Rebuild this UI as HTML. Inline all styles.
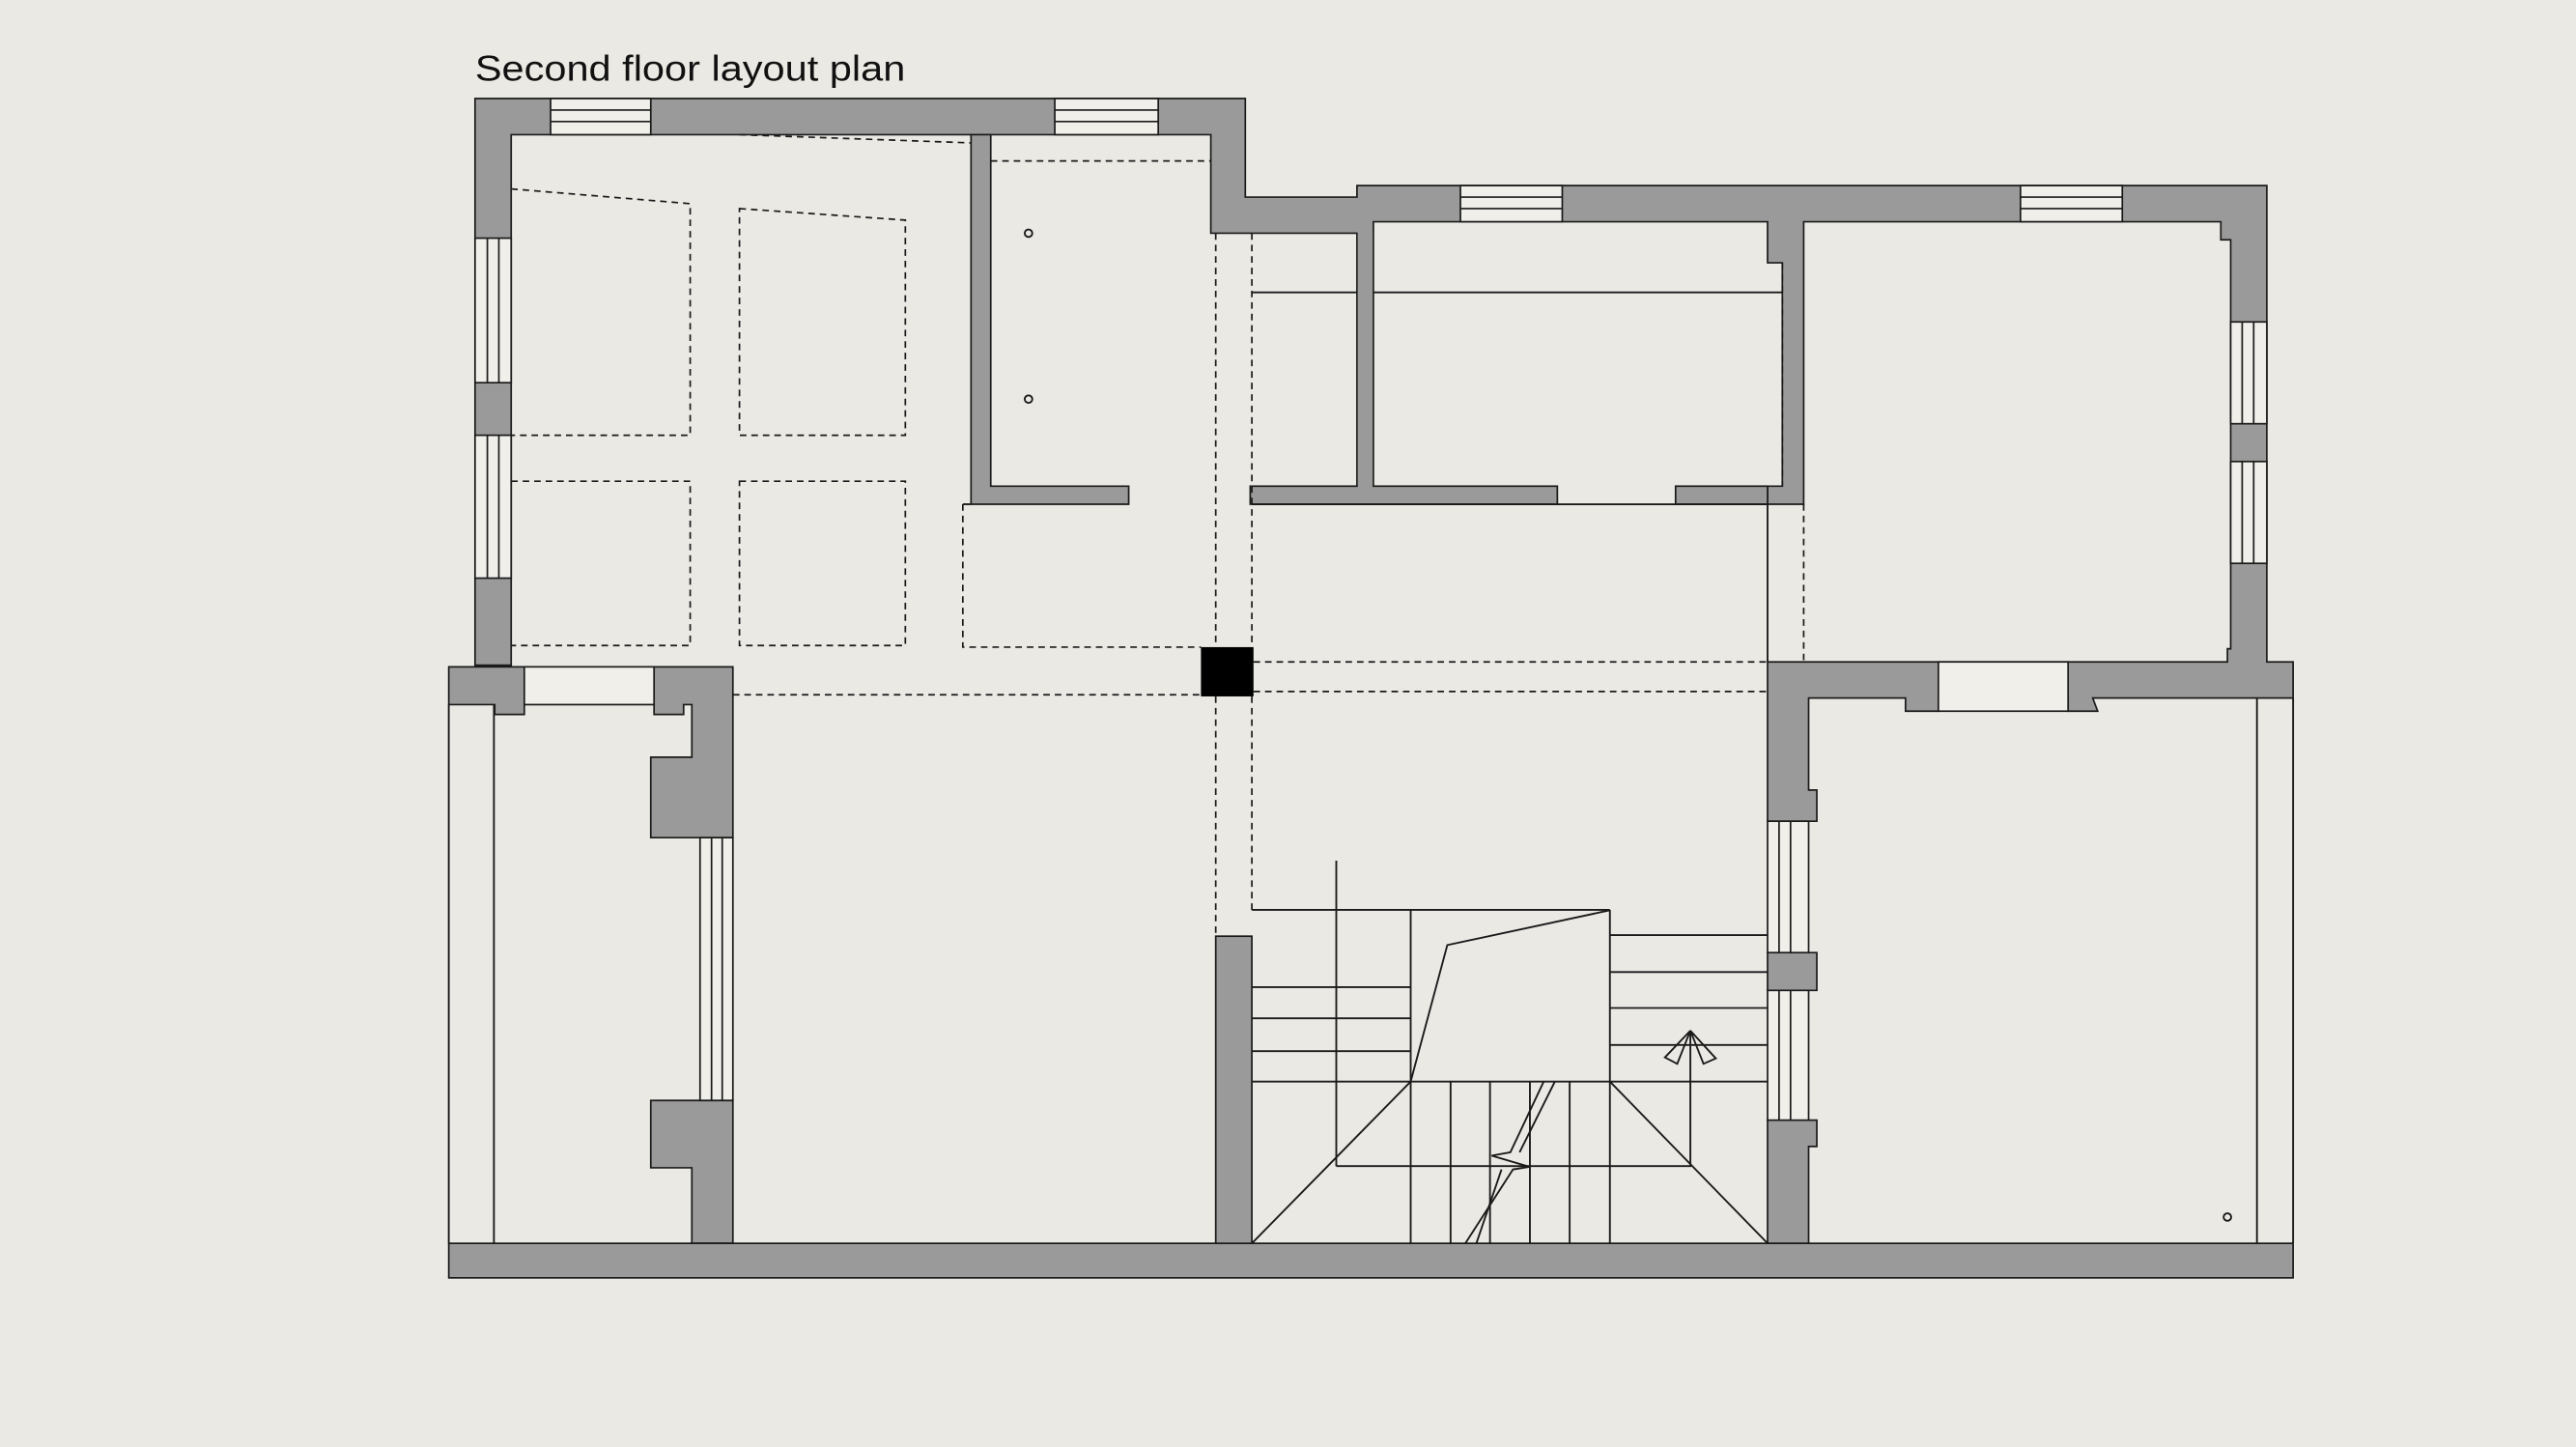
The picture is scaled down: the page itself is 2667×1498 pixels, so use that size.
<!DOCTYPE html>
<html><head><meta charset="utf-8"><style>
html,body{margin:0;padding:0;background:#ebe9e4;}
svg{display:block;}
</style></head><body>
<svg width="2667" height="1498" viewBox="0 0 1568 881" xmlns="http://www.w3.org/2000/svg">
<rect width="1568" height="881" fill="#ebe9e4"/>
<text x="289" y="49" font-family="Liberation Sans, sans-serif" font-size="22" fill="#111" textLength="262" lengthAdjust="spacingAndGlyphs">Second floor layout plan</text>

<g fill="#9a9a9a" stroke="#1a1a1a" stroke-width="1">
<polygon points="289,60 758,60 758,120 826,120 826,113 1380,113 1380,403 1396,403 1396,425 1274,425 1277,433 1259,433 1259,425 1180,425 1180,433 1160,433 1160,425 1101,425 1101,481 1106,481 1106,500 1076,500 1076,403 1356,403 1356,395 1358,395 1358,146 1352,146 1352,135 1098,135 1098,307 1076,307 1076,296 1085,296 1085,160 1076,160 1076,135 836,135 836,296 826,296 826,142 737,142 737,82 311,82 311,405 289,405"/>
<polygon points="591,82 603,82 603,296 687,296 687,307 591,307"/>
<rect x="761" y="296" width="187" height="11"/>
<rect x="1020" y="296" width="56" height="11"/>
<rect x="826.5" y="140" width="9" height="160" stroke="none"/>
<polygon points="273,406 319,406 319,435 301,435 301,429 273,429"/>
<polygon points="398,406 446,406 446,510 396,510 396,461 421,461 421,429 416,429 416,435 398,435"/>
<polygon points="396,670 446,670 446,757 421,757 421,711 396,711"/>
<rect x="273" y="757" width="1123" height="21"/>
<rect x="740" y="570" width="22" height="187"/>
<polygon points="1076,580 1106,580 1106,603 1076,603"/>
<polygon points="1076,682 1106,682 1106,698 1101,698 1101,757 1076,757"/>
</g>

<g fill="#f1efea" stroke="#1a1a1a" stroke-width="1">
<rect x="335" y="60" width="61" height="22"/><line x1="335" y1="67" x2="396" y2="67"/><line x1="335" y1="74" x2="396" y2="74"/>
<rect x="642" y="60" width="63" height="22"/><line x1="642" y1="67" x2="705" y2="67"/><line x1="642" y1="74" x2="705" y2="74"/>
<rect x="889" y="113" width="62" height="22"/><line x1="889" y1="120" x2="951" y2="120"/><line x1="889" y1="127" x2="951" y2="127"/>
<rect x="1230" y="113" width="62" height="22"/><line x1="1230" y1="120" x2="1292" y2="120"/><line x1="1230" y1="127" x2="1292" y2="127"/>
<rect x="289" y="145" width="22" height="88"/><line x1="296.5" y1="145" x2="296.5" y2="233"/><line x1="303.5" y1="145" x2="303.5" y2="233"/>
<rect x="289" y="265" width="22" height="87"/><line x1="296.5" y1="265" x2="296.5" y2="352"/><line x1="303.5" y1="265" x2="303.5" y2="352"/>
<rect x="1358" y="196" width="22" height="62"/><line x1="1365" y1="196" x2="1365" y2="258"/><line x1="1372" y1="196" x2="1372" y2="258"/>
<rect x="1358" y="281" width="22" height="62"/><line x1="1365" y1="281" x2="1365" y2="343"/><line x1="1372" y1="281" x2="1372" y2="343"/>
<rect x="426" y="510" width="20" height="160"/><line x1="433" y1="510" x2="433" y2="670"/><line x1="439.5" y1="510" x2="439.5" y2="670"/>
<rect x="1076" y="500" width="25" height="80"/><line x1="1083" y1="500" x2="1083" y2="580"/><line x1="1090" y1="500" x2="1090" y2="580"/>
<rect x="1076" y="603" width="25" height="79"/><line x1="1083" y1="603" x2="1083" y2="682"/><line x1="1090" y1="603" x2="1090" y2="682"/>
<rect x="319" y="406" width="79" height="23"/>
<rect x="1180" y="403" width="79" height="30"/>
</g>

<g stroke="#1a1a1a" stroke-width="1.1" fill="none">
<line x1="273" y1="429" x2="273" y2="757"/>
<line x1="300.5" y1="429" x2="300.5" y2="757"/>
<line x1="1374" y1="425" x2="1374" y2="757"/>
<line x1="1396" y1="425" x2="1396" y2="757"/>
<line x1="762" y1="178" x2="826" y2="178"/>
<line x1="836" y1="178" x2="1085" y2="178"/>
<line x1="762" y1="307" x2="1076" y2="307"/>
<line x1="1076" y1="307" x2="1076" y2="403"/>
<line x1="586" y1="307" x2="591" y2="307"/>
<circle cx="626" cy="142" r="2.3"/>
<circle cx="626" cy="243" r="2.3"/>
<circle cx="1356" cy="741" r="2.3"/>
<line x1="762" y1="554" x2="980" y2="554"/>
<line x1="813.4" y1="524" x2="813.4" y2="710"/>
<line x1="858.7" y1="554" x2="858.7" y2="757"/>
<line x1="762" y1="601" x2="858.7" y2="601"/>
<line x1="762" y1="620" x2="858.7" y2="620"/>
<line x1="762" y1="640" x2="858.7" y2="640"/>
<line x1="762" y1="658.5" x2="1076" y2="658.5"/>
<polyline points="858.7,658.5 881,575.4 980,554.2"/>
<line x1="980" y1="554" x2="980" y2="757"/>
<line x1="980" y1="569.3" x2="1076" y2="569.3"/>
<line x1="980" y1="591.8" x2="1076" y2="591.8"/>
<line x1="980" y1="613.7" x2="1076" y2="613.7"/>
<line x1="980" y1="636.2" x2="1076" y2="636.2"/>
<line x1="883" y1="658.5" x2="883" y2="757"/>
<line x1="907" y1="658.5" x2="907" y2="757"/>
<line x1="931.3" y1="658.5" x2="931.3" y2="757"/>
<line x1="955.5" y1="658.5" x2="955.5" y2="757"/>
<line x1="762" y1="757" x2="858.7" y2="658.5"/>
<line x1="980" y1="658.5" x2="1076" y2="757"/>
<polyline points="813.4,710 1029,710 1029,627.5"/>
<polygon points="1029,627.5 1013.5,643.8 1021,647.7"/>
<polygon points="1029,627.5 1044.5,644.4 1037,647.7"/>
<polyline points="939.7,658.5 919.4,701.6 908,703.6 931,710.4 921,712 892,757"/>
<polyline points="946.5,658.5 925,701.6"/>
<polyline points="914,712 898.7,757"/>
</g>

<rect x="731" y="394" width="32" height="30" fill="#000"/>

<g stroke="#1a1a1a" stroke-width="1" fill="none" stroke-dasharray="4 3">
<line x1="450" y1="82" x2="591" y2="87"/>
<polyline points="311,115 420,124 420,265 311,265"/>
<polygon points="450,127 551,134 551,265 450,265"/>
<polyline points="311,293 420,293 420,393 311,393"/>
<rect x="450" y="293" width="101" height="100"/>
<polyline points="586,307 586,394 731,394"/>
<line x1="603" y1="98" x2="737" y2="98"/>
<line x1="740" y1="142" x2="740" y2="394"/>
<line x1="740" y1="424" x2="740" y2="570"/>
<line x1="762" y1="142" x2="762" y2="394"/>
<line x1="762" y1="424" x2="762" y2="554"/>
<line x1="763" y1="403" x2="1076" y2="403"/>
<line x1="763" y1="421" x2="1076" y2="421"/>
<line x1="446" y1="423" x2="731" y2="423"/>
<line x1="1085" y1="160" x2="1085" y2="296"/>
<line x1="1098" y1="307" x2="1098" y2="403"/>
</g>
</svg>
</body></html>
